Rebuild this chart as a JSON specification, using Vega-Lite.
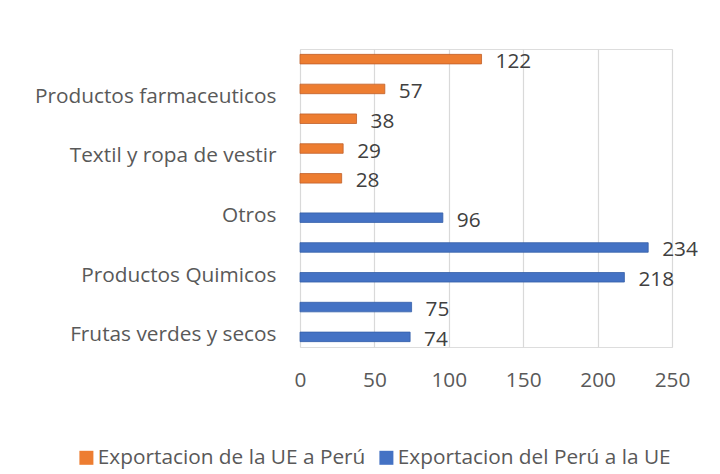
{
  "$schema": "https://vega.github.io/schema/vega-lite/v6.json",
  "autosize": "none",
  "width": 372,
  "height": 298,
  "padding": {"left": 300, "top": 49, "right": 48, "bottom": 127},
  "background": "white",
  "data": {
    "values": [
      {"categoria": "Categoría 10", "serie": "Exportacion de la UE a Perú", "valor": 122},
      {"categoria": "Productos farmaceuticos", "serie": "Exportacion de la UE a Perú", "valor": 57},
      {"categoria": "Categoría 8", "serie": "Exportacion de la UE a Perú", "valor": 38},
      {"categoria": "Textil y ropa de vestir", "serie": "Exportacion de la UE a Perú", "valor": 29},
      {"categoria": "Categoría 6", "serie": "Exportacion de la UE a Perú", "valor": 28},
      {"categoria": "Otros", "serie": "Exportacion del Perú a la UE", "valor": 96},
      {"categoria": "Categoría 4", "serie": "Exportacion del Perú a la UE", "valor": 234},
      {"categoria": "Productos Quimicos", "serie": "Exportacion del Perú a la UE", "valor": 218},
      {"categoria": "Categoría 2", "serie": "Exportacion del Perú a la UE", "valor": 75},
      {"categoria": "Frutas verdes y secos", "serie": "Exportacion del Perú a la UE", "valor": 74}
    ]
  },
  "encoding": {
    "y": {
      "field": "categoria",
      "type": "nominal",
      "sort": ["Categoría 10", "Productos farmaceuticos", "Categoría 8", "Textil y ropa de vestir", "Categoría 6", "Otros", "Categoría 4", "Productos Quimicos", "Categoría 2", "Frutas verdes y secos"],
      "scale": {"paddingInner": 0.36, "paddingOuter": 0.18},
      "axis": {
        "title": null,
        "domain": false,
        "ticks": false,
        "labelPadding": 24,
        "labelOffset": 3,
        "labelFont": "Open Sans",
        "labelFontSize": 20.8,
        "labelColor": "#595959",
        "labelLimit": 300,
        "labelExpr": "indexof(datum.value, 'Categoría') === 0 ? '' : datum.value"
      }
    },
    "yOffset": {
      "field": "serie",
      "type": "nominal",
      "sort": ["Exportacion de la UE a Perú", "Exportacion del Perú a la UE"],
      "scale": {"paddingInner": 0, "paddingOuter": 0}
    },
    "x": {
      "field": "valor",
      "type": "quantitative",
      "scale": {"domain": [0, 250], "nice": false},
      "axis": {
        "title": null,
        "values": [0, 50, 100, 150, 200, 250],
        "domain": false,
        "ticks": false,
        "grid": true,
        "gridColor": "#D9D9D9",
        "gridWidth": 1.2,
        "labelPadding": 23,
        "labelFont": "Open Sans",
        "labelFontSize": 20.8,
        "labelColor": "#595959",
        "labelFlush": false
      }
    }
  },
  "layer": [
    {
      "mark": {"type": "bar", "strokeWidth": 0.8},
      "encoding": {
        "color": {
          "field": "serie",
          "type": "nominal",
          "sort": ["Exportacion de la UE a Perú", "Exportacion del Perú a la UE"],
          "scale": {"domain": ["Exportacion de la UE a Perú", "Exportacion del Perú a la UE"], "range": ["#ED7D31", "#4472C4"]},
          "legend": {
            "title": null,
            "orient": "none",
            "direction": "horizontal",
            "legendX": -224,
            "legendY": 398,
            "symbolType": "square",
            "symbolSize": 196,
            "symbolStrokeWidth": 0,
            "symbolOpacity": 1,
            "labelFont": "Open Sans",
            "labelFontSize": 20.8,
            "labelColor": "#595959",
            "labelOffset": 1,
            "columnPadding": 10,
            "labelLimit": 400
          }
        },
        "stroke": {
          "field": "serie",
          "type": "nominal",
          "scale": {"domain": ["Exportacion de la UE a Perú", "Exportacion del Perú a la UE"], "range": ["#C0602A", "#3560A8"]},
          "legend": null
        }
      }
    },
    {
      "mark": {"type": "text", "align": "left", "baseline": "middle", "dx": 14, "dy": 3, "font": "Open Sans", "fontSize": 20.8, "color": "#404040"},
      "encoding": {
        "text": {"field": "valor", "type": "quantitative"}
      }
    }
  ]
}
